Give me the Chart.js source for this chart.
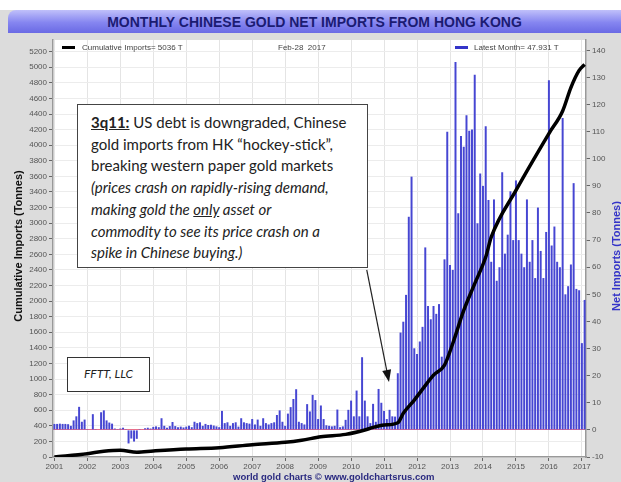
<!DOCTYPE html>
<html>
<head>
<meta charset="utf-8">
<script src="https://cdn.jsdelivr.net/npm/chart.js@4.4.1/dist/chart.umd.min.js"></script>
<style>
  html, body { margin: 0; padding: 0; background: #fff; }
  #wrap { position: relative; width: 621px; height: 482px; background: #dcdcdc; overflow: hidden; font-family: Arial, 'Liberation Sans', sans-serif; }
  #topstrip { position: absolute; left: 0; top: 0; width: 621px; height: 10px; background: #fff; }
  #titlebar { position: absolute; left: 8px; top: 10px; width: 613px; height: 23px; border-top-left-radius: 8px;
    background: linear-gradient(to bottom, #c0c0fa 0%, #8585f0 55%, #6a6ae4 100%); }
  #titlebar span { position: absolute; left: 0; width: 613px; top: 4px; text-align: center; font-weight: bold; font-size: 14px; color: #1b1b72; }
  canvas { position: absolute; left: 0; top: 0; }
  .ov { position: absolute; white-space: nowrap; }
  .leg { font-size: 8px; color: #444; top: 43px; }
  .dash { position: absolute; height: 3px; top: 46px; width: 13px; }
  .axt { position: absolute; width: 260px; text-align: center; font-weight: bold; font-size: 11px; transform: rotate(-90deg); }
  #note { position: absolute; left: 77px; top: 104px; width: 291px; height: 164px; box-sizing: border-box; border: 1.5px solid #444; background: #fff;
    font-family: Lato, 'Open Sans', sans-serif; font-size: 15px; line-height: 21.7px; color: #222; padding: 7px 0 0 13px; white-space: nowrap; }
  #fftt { position: absolute; left: 67px; top: 357px; width: 83px; height: 35px; box-sizing: border-box; border: 1.5px solid #333; background: #fff;
    font-family: Lato, 'Open Sans', sans-serif; font-style: italic; font-size: 12px; line-height: 32px; text-align: center; color: #222; }
  #credit { position: absolute; left: 233px; top: 471px; font-size: 9.5px; font-weight: bold; color: #2a2a80; }
</style>
</head>
<body>
<div id="wrap">
  <div id="topstrip"></div>
  <div id="titlebar"><span>MONTHLY CHINESE GOLD NET IMPORTS FROM HONG KONG</span></div>
  <canvas id="grafico" width="621" height="482"></canvas>

  <div class="dash" style="left:62px;background:#000;"></div>
  <div class="ov leg" style="left:82px;">Cumulative Imports= 5036 T</div>
  <div class="ov leg" style="left:278px;">Feb-28&nbsp; 2017</div>
  <div class="dash" style="left:455px;background:#3434c8;"></div>
  <div class="ov leg" style="left:474px;">Latest Month= 47.931 T</div>

  <div class="axt" style="left:-112px;top:240px;color:#111;">Cumulative Imports (Tonnes)</div>
  <div class="axt" style="left:486px;top:250px;color:#3434c8;">Net Imports (Tonnes)</div>

  <div id="note">
    <b><u>3q11:</u></b> US debt is downgraded, Chinese<br>
    gold imports from HK “hockey-stick”,<br>
    breaking western paper gold markets<br>
    <i>(prices crash on rapidly-rising demand,<br>
    making gold the <u>only</u> asset or<br>
    commodity to see its price crash on a<br>
    spike in Chinese buying.)</i>
  </div>
  <div id="fftt">FFTT, LLC</div>
  <div id="credit">world gold charts © www.goldchartsrus.com</div>
</div>

<script>
const startYear = 2001;
const yearTicks = ['2001', '2002', '2003', '2004', '2005', '2006', '2007', '2008', '2009', '2010', '2011', '2012', '2013', '2014', '2015', '2016', '2017'];

// net imports per month (tonnes), Jan 2001 .. Feb 2017
const netImports = [
  2.2, 2.2, 2.3, 2.2, 2.2, 2.1, 1.5, 3.5, 5.0, 8.5, 3.0, 3.8,          // 2001
  0.3, 0.2, 5.8, 0.3, 0.0, 6.5, 7.2, 3.5, 2.7, 2.3, 0.5, 0.3,          // 2002
  0.5, 0.8, 0.3, -5.0, -3.2, -4.3, -3.3, 0.3, 0.2, 0.6, 0.8, 0.5,      // 2003
  1.1, 1.3, 1.0, 4.3, 1.5, 0.8, 1.4, 2.9, 1.4, 1.0, 1.2, 0.9,          // 2004
  1.2, 1.5, 1.0, 3.0, 2.5, 2.8, 1.5, 2.2, 1.8, 1.9, 1.6, 1.3,          // 2005
  1.0, 7.0, 2.5, 2.8, 1.5, 2.5, 2.8, 1.2, 4.3, 2.8, 2.5, 2.3,          // 2006
  4.0, 2.0, 3.8, 1.5, 4.3, 2.5, 2.0, 2.5, 2.8, 5.5, 7.2, 3.0,          // 2007
  1.5, 6.0, 8.4, 11.4, 15.0, 3.0, 2.5, 2.0, 9.5, 6.8, 12.9, 11.0,      // 2008
  4.0, 9.0, 4.0, 1.7, 1.5, 1.3, 1.5, 7.5, 1.0, 1.3, 3.7, 7.4,          // 2009
  10.8, 5.0, 14.5, 5.0, 26.8, 10.8, 5.0, 2.5, 9.6, 3.0, 15.1, 10.0,    // 2010
  7.0, 4.0, 7.4, 5.0, 4.9, 20.9, 35.9, 39.9, 49.8, 78.6, 93.4, 30.1,   // 2011
  28.0, 32.6, 38.0, 67.3, 45.7, 40.8, 45.7, 42.8, 46.4, 27.0, 62.9, 110.0, // 2012
  60.8, 59.0, 135.7, 79.9, 108.4, 104.4, 116.0, 110.3, 110.8, 131.0, 76.2, 94.6, // 2013
  90.0, 112.0, 84.8, 62, 85, 55, 60, 95, 65, 72, 88, 70,              // 2014
  92, 70, 65, 60, 85, 62, 70, 56, 82, 66, 56, 73,                      // 2015
  129, 68, 75, 62, 60, 115, 50, 53, 61, 91, 52, 51.5,                  // 2016
  32, 47.931                                                           // 2017
];

// cumulative line: month index -> tonnes
const cumMonth = [0, 12, 18, 24, 30, 36, 48, 60, 72, 84, 90, 97, 106, 113, 116, 120, 125, 127, 131, 134, 138, 142, 145, 149, 153, 157, 159, 168, 180, 185, 188, 191, 193];
const cumValue = [0, 43, 73, 86, 62, 77, 103, 120, 158, 188, 215, 260, 290, 346, 380, 410, 440, 560, 730, 870, 1050, 1180, 1456, 1880, 2224, 2565, 2820, 3420, 4150, 4440, 4740, 4960, 5036];

// arrow of the note, in data units (month index, net tonnes)
const arrowFrom = [113.7, 59];
const arrowTo = [121.8, 17.7];

const meses = [];
for (let i = 0; i < netImports.length; i++) {
  const y = startYear + Math.floor(i / 12);
  meses.push(y + '-' + String(i % 12 + 1).padStart(2, '0'));
}
const cumSerie = meses.map(() => null);
cumMonth.forEach((m, k) => { cumSerie[m] = cumValue[k]; });

const tickFont = { family: "'Liberation Sans Narrow', 'Arial Narrow', Arial, sans-serif", size: 8 };

const plotFundo = {
  id: 'plotFundo',
  beforeDraw(chart) {
    const { ctx, chartArea: a } = chart;
    ctx.save();
    ctx.fillStyle = '#ffffff';
    ctx.fillRect(a.left, a.top, a.right - a.left, a.bottom - a.top);
    ctx.restore();
  },
  afterDraw(chart) {
    const { ctx, scales } = chart;
    const x0 = scales.x.getPixelForValue(arrowFrom[0]), y0 = scales.y1.getPixelForValue(arrowFrom[1]);
    const x1 = scales.x.getPixelForValue(arrowTo[0]), y1 = scales.y1.getPixelForValue(arrowTo[1]);
    const ang = Math.atan2(y1 - y0, x1 - x0);
    ctx.save();
    ctx.strokeStyle = '#222';
    ctx.fillStyle = '#111';
    ctx.lineWidth = 1.2;
    ctx.beginPath();
    ctx.moveTo(x0, y0);
    ctx.lineTo(x1 - 10 * Math.cos(ang), y1 - 10 * Math.sin(ang));
    ctx.stroke();
    ctx.beginPath();
    ctx.moveTo(x1, y1);
    ctx.lineTo(x1 - 12 * Math.cos(ang) + 4.5 * Math.sin(ang), y1 - 12 * Math.sin(ang) - 4.5 * Math.cos(ang));
    ctx.lineTo(x1 - 12 * Math.cos(ang) - 4.5 * Math.sin(ang), y1 - 12 * Math.sin(ang) + 4.5 * Math.cos(ang));
    ctx.closePath();
    ctx.fill();
    ctx.restore();
  }
};

new Chart(document.getElementById('grafico'), {
  type: 'bar',
  data: {
    labels: meses,
    datasets: [
      {
        type: 'line',
        label: 'Cumulative Imports',
        data: cumSerie,
        yAxisID: 'y',
        borderColor: '#000',
        borderWidth: 3.5,
        pointRadius: 0,
        spanGaps: true,
        cubicInterpolationMode: 'monotone',
        order: 0
      },
      {
        label: 'Net Imports',
        data: netImports,
        yAxisID: 'y1',
        backgroundColor: '#4646d2',
        borderWidth: 0,
        barPercentage: 0.72,
        categoryPercentage: 1,
        order: 1
      }
    ]
  },
  options: {
    responsive: false,
    animation: false,
    layout: { padding: { top: 40, left: 0, right: 0, bottom: 0 } },
    plugins: { legend: { display: false }, tooltip: { enabled: false } },
    scales: {
      x: {
        offset: true,
        grid: { offset: false, color: '#e4e4e4', tickColor: '#666', tickLength: 4 },
        border: { color: '#999', width: 1.5 },
        ticks: {
          autoSkip: false, maxRotation: 0, font: tickFont, color: '#555', padding: 1,
          callback(v) { return yearTicks[Math.floor(v / 12)]; }
        },
        afterBuildTicks(axis) { axis.ticks = axis.ticks.filter(t => t.value % 12 === 0); },
        afterFit(s) { s.height = 25; }
      },
      y: {
        position: 'left',
        min: 0, max: 5350,
        grid: { color: '#ececec', tickColor: '#666', tickLength: 4 },
        border: { color: '#999', width: 1.5 },
        ticks: { stepSize: 200, includeBounds: false, font: tickFont, color: '#555', padding: 2, callback: v => String(v) },
        afterFit(s) { s.width = 53; }
      },
      y1: {
        position: 'right',
        min: -10, max: 143.8,
        grid: {
          color: ctx => (ctx.tick && ctx.tick.value === 0 ? '#e8708a' : 'rgba(0,0,0,0)'),
          tickColor: '#666', tickLength: 4
        },
        border: { color: '#999', width: 1.5 },
        ticks: { stepSize: 10, includeBounds: false, font: tickFont, color: '#555', padding: 2, callback: v => String(v) },
        afterFit(s) { s.width = 35; }
      }
    }
  },
  plugins: [plotFundo]
});
</script>
</body>
</html>
